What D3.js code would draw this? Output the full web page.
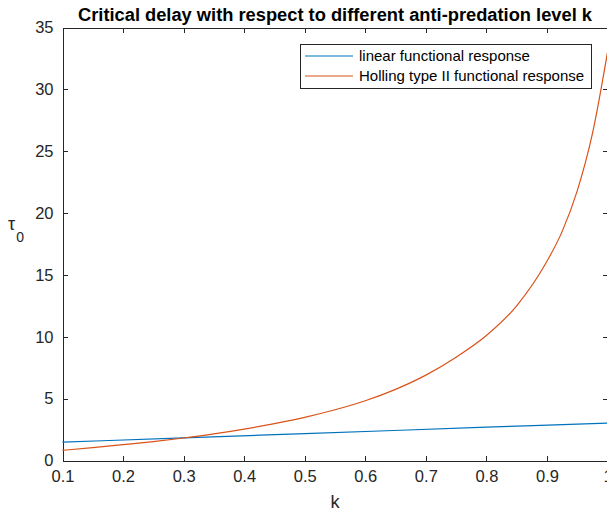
<!DOCTYPE html>
<meta charset="utf-8">
<style>
  body {
    margin: 0;
    background: #fff;
  }

  svg text {
    font-family: "Liberation Sans", Arial, Helvetica, sans-serif;
    fill: #262626;
  }

  .axis path,
  .axis line {
    stroke: #262626;
    stroke-width: 1;
    shape-rendering: crispEdges;
  }

  .axis text {
    font-size: 16.5px;
  }

  .curve {
    fill: none;
    stroke-width: 1.2;
  }
</style>

<body>
  <script src="https://d3js.org/d3.v7.min.js"></script>
  <script>

    // anti-predation level k
    var kTicks = [0.1, 0.2, 0.3, 0.4, 0.5, 0.6, 0.7, 0.8, 0.9, 1];
    var tauTicks = [0, 5, 10, 15, 20, 25, 30, 35];

    // critical delay, linear functional response
    var linearK = [0.1, 0.3, 0.5, 0.8, 1.0];
    var linearTau = [1.48, 1.83, 2.17, 2.69, 3.03];

    // critical delay, Holling type II functional response
    var hollingK = [0.1, 0.15, 0.2, 0.25, 0.3, 0.35, 0.4, 0.45, 0.5, 0.55, 0.6, 0.65,
      0.7, 0.75, 0.8, 0.85, 0.9, 0.925, 0.95, 0.975, 1.0];
    var hollingTau = [0.82, 1.04, 1.28, 1.53, 1.82, 2.15, 2.54, 2.98, 3.49, 4.1, 4.83, 5.75,
      6.9, 8.35, 10.1, 12.5, 16.1, 18.5, 21.8, 26.4, 33.0];

    var seriesNames = ['linear functional response', 'Holling type II functional response'];
    var seriesColors = ['#0072BD', '#D95319'];

    var width = 607
    var height = 515

    var plotLeft = 62.5, plotRight = 607.5, plotTop = 27.5, plotBottom = 460.5

    var x = d3.scaleLinear().domain([0.1, 1]).range([plotLeft, plotRight])
    var y = d3.scaleLinear().domain([0, 35]).range([plotBottom, plotTop])

    var svg = d3.select('body')
      .append('svg')
      .attr('width', width)
      .attr('height', height)

    // box axes with inward ticks
    svg.append('g')
      .attr('class', 'axis')
      .attr('transform', 'translate(0,' + plotBottom + ')')
      .call(d3.axisBottom(x).tickValues(kTicks).tickSizeInner(-5).tickSizeOuter(0).tickPadding(10)
        .tickFormat(function (d) { return d === 1 ? '1' : d3.format('.1f')(d) }))

    svg.append('g')
      .attr('class', 'axis')
      .attr('transform', 'translate(0,' + plotTop + ')')
      .call(d3.axisTop(x).tickValues(kTicks).tickSizeInner(-5).tickSizeOuter(0).tickFormat(''))

    svg.append('g')
      .attr('class', 'axis')
      .attr('transform', 'translate(' + plotLeft + ',0)')
      .call(d3.axisLeft(y).tickValues(tauTicks).tickSizeInner(-5).tickSizeOuter(0).tickPadding(9))

    svg.append('g')
      .attr('class', 'axis')
      .attr('transform', 'translate(' + plotRight + ',0)')
      .call(d3.axisRight(y).tickValues(tauTicks).tickSizeInner(-5).tickSizeOuter(0).tickFormat(''))

    svg.selectAll('.axis text').attr('fill', '#262626')

    var line = d3.line()
      .x(function (d) { return x(d[0]) })
      .y(function (d) { return y(d[1]) })
      .curve(d3.curveMonotoneX)

    var series = [d3.zip(linearK, linearTau), d3.zip(hollingK, hollingTau)]

    svg.append('g')
      .selectAll('path')
      .data(series)
      .enter().append('path')
      .attr('class', 'curve')
      .attr('stroke', function (d, i) { return seriesColors[i] })
      .attr('d', line)

    // title and labels
    svg.append('text')
      .attr('x', (plotLeft + plotRight) / 2)
      .attr('y', 21)
      .attr('text-anchor', 'middle')
      .style('font-size', '18.3px')
      .style('font-weight', 'bold')
      .style('fill', '#000')
      .text('Critical delay with respect to different anti-predation level k')

    svg.append('text')
      .attr('x', (plotLeft + plotRight) / 2)
      .attr('y', 508)
      .attr('text-anchor', 'middle')
      .style('font-size', '18.3px')
      .text('k')

    var ylab = svg.append('text')
      .attr('x', 8)
      .attr('y', 230)
      .style('font-size', '18px')
    ylab.append('tspan').text('τ')
    ylab.append('tspan')
      .attr('dy', 12)
      .attr('dx', 1)
      .style('font-size', '14px')
      .text('0')

    // legend
    var legend = svg.append('g')

    legend.append('rect')
      .attr('x', 300.5)
      .attr('y', 44.5)
      .attr('width', 291)
      .attr('height', 44)
      .attr('fill', '#fff')
      .attr('stroke', '#262626')
      .attr('stroke-width', 1)

    var items = legend.selectAll('.item')
      .data(seriesNames)
      .enter().append('g')
      .attr('class', 'item')
      .attr('transform', function (d, i) { return 'translate(0,' + (56 + i * 20) + ')' })

    items.append('line')
      .attr('x1', 305)
      .attr('x2', 353)
      .attr('stroke', function (d, i) { return seriesColors[i] })
      .attr('stroke-width', 1.2)

    items.append('text')
      .attr('x', 359)
      .attr('dy', '0.35em')
      .style('font-size', '15px')
      .style('fill', '#000')
      .text(function (d) { return d })

  </script>
</body>
